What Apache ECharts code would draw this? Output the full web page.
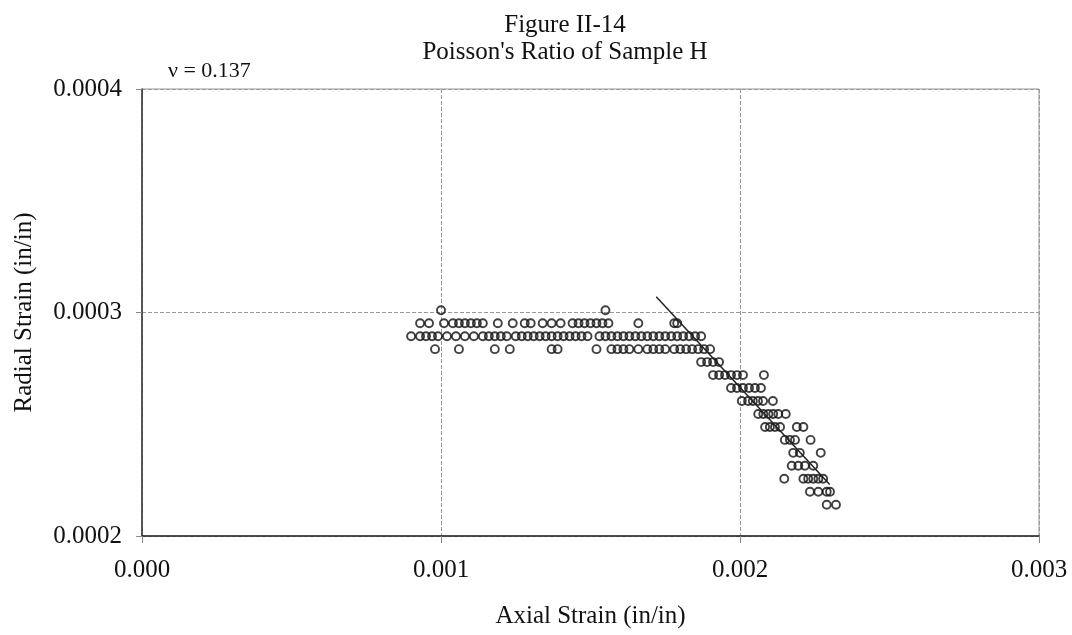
<!DOCTYPE html>
<html>
<head>
<meta charset="utf-8">
<script src="https://cdn.jsdelivr.net/npm/echarts@6/dist/echarts.min.js"></script>
<style>
html,body{margin:0;padding:0;background:#fff;}
#chart{width:1072px;height:635px;}
</style>
</head>
<body>
<div id="chart"></div>
<script>
// Row levels of radial strain (in/in), quantized as in the reference
const rowY = [0.0003010, 0.0002952, 0.0002894, 0.0002836, 0.0002778, 0.0002720, 0.0002662, 0.0002604,
              0.0002546, 0.0002488, 0.0002430, 0.0002372, 0.0002314, 0.0002256, 0.0002198, 0.0002140];
// Axial strain values of the points in each row
const rowX = [
  [0.00100, 0.00155],
  [0.00093, 0.00096, 0.00101, 0.00104, 0.00106, 0.00108, 0.00110, 0.00112, 0.00114, 0.00119, 0.00124, 0.00128,
   0.00130, 0.00134, 0.00137, 0.00140, 0.00144, 0.00146, 0.00148, 0.00150, 0.00152, 0.00154, 0.00156, 0.00166,
   0.00178, 0.00179],
  [0.00090, 0.00093, 0.00095, 0.00097, 0.00099, 0.00102, 0.00105, 0.00108, 0.00111, 0.00114, 0.00116, 0.00118,
   0.00120, 0.00122, 0.00125, 0.00127, 0.00129, 0.00131, 0.00133, 0.00135, 0.00137, 0.00139, 0.00141, 0.00143,
   0.00145, 0.00147, 0.00149, 0.00153, 0.00155, 0.00157, 0.00159, 0.00161, 0.00163, 0.00165, 0.00167, 0.00169,
   0.00171, 0.00173, 0.00175, 0.00177, 0.00179, 0.00181, 0.00183, 0.00185, 0.00187],
  [0.00098, 0.00106, 0.00118, 0.00123, 0.00137, 0.00139, 0.00152, 0.00157, 0.00159, 0.00161, 0.00163, 0.00166,
   0.00169, 0.00171, 0.00173, 0.00175, 0.00178, 0.00180, 0.00182, 0.00184, 0.00186, 0.00188, 0.00190],
  [0.00187, 0.00189, 0.00191, 0.00193],
  [0.00191, 0.00193, 0.00195, 0.00197, 0.00199, 0.00201, 0.00208],
  [0.00197, 0.00199, 0.00201, 0.00203, 0.00205, 0.00207],
  [0.002006, 0.002027, 0.002043, 0.002060, 0.002077, 0.002110],
  [0.002061, 0.002078, 0.002095, 0.002111, 0.002128, 0.002153],
  [0.002084, 0.002100, 0.002117, 0.002134, 0.002190, 0.002212],
  [0.002150, 0.002167, 0.002184, 0.002236],
  [0.002178, 0.002200, 0.002270],
  [0.002173, 0.002195, 0.002217, 0.002245],
  [0.002148, 0.002212, 0.002228, 0.002245, 0.002262, 0.002278],
  [0.002234, 0.002262, 0.002290, 0.002301],
  [0.002290, 0.002321]
];
// Fitted line endpoints (axial, radial)
const fitX = [0.00172, 0.00230];
const fitY = [0.0003070, 0.0002230];
const xTicks = ['0.000', '0.001', '0.002', '0.003'];
const yTicks = ['0.0002', '0.0003', '0.0004'];

const points = [];
rowX.forEach((xs, i) => xs.forEach(x => points.push([x, rowY[i]])));
const fitLine = fitX.map((x, i) => [x, fitY[i]]);

const font = '"Liberation Serif", "Times New Roman", serif';
const chart = echarts.init(document.getElementById('chart'), null, {renderer: 'canvas'});
chart.setOption({
  animation: false,
  backgroundColor: '#fff',
  title: {
    text: 'Figure II-14\nPoisson\'s Ratio of Sample H',
    left: 560, top: 7, textAlign: 'center',
    textStyle: {fontFamily: font, fontSize: 25, fontWeight: 'normal', color: '#111', lineHeight: 27}
  },
  graphic: [{
    type: 'text', left: 168, top: 60,
    style: {text: 'ν = 0.137', fontFamily: font, fontSize: 22, fill: '#111'}
  }],
  grid: {left: 142, right: 33, top: 89, bottom: 99, show: true, borderColor: '#999', borderWidth: 1},
  xAxis: {
    type: 'value', min: 0, max: 0.003, interval: 0.001,
    name: 'Axial Strain (in/in)', nameLocation: 'middle', nameGap: 68,
    nameTextStyle: {fontFamily: font, fontSize: 25, color: '#111'},
    axisLine: {show: true, onZero: false, lineStyle: {color: '#222', width: 1.5}},
    axisTick: {show: true, inside: false, length: 7, lineStyle: {color: '#888'}},
    axisLabel: {fontFamily: font, fontSize: 25, color: '#111', margin: 22,
      formatter: v => xTicks[Math.round(v / 0.001)]},
    splitLine: {show: true, lineStyle: {color: '#999', type: 'dashed', width: 1}}
  },
  yAxis: {
    type: 'value', min: 0.0002, max: 0.0004, interval: 0.0001,
    name: 'Radial Strain (in/in)', nameLocation: 'middle', nameGap: 105, nameRotate: 90,
    nameTextStyle: {fontFamily: font, fontSize: 25, color: '#111'},
    axisLine: {show: true, onZero: false, lineStyle: {color: '#333', width: 1.5}},
    axisTick: {show: true, inside: false, length: 6, lineStyle: {color: '#888'}},
    axisLabel: {fontFamily: font, fontSize: 25, color: '#111', margin: 20,
      formatter: v => yTicks[Math.round((v - 0.0002) / 0.0001)]},
    splitLine: {show: true, lineStyle: {color: '#999', type: 'dashed', width: 1}}
  },
  series: [
    {
      type: 'scatter', data: points, symbol: 'circle', symbolSize: 8,
      itemStyle: {color: 'rgba(0,0,0,0)', borderColor: '#111', borderWidth: 1.9},
      z: 3
    },
    {
      type: 'line', data: fitLine, showSymbol: false, symbol: 'none',
      lineStyle: {color: '#222', width: 1.5}, z: 4
    }
  ]
});
</script>
</body>
</html>
